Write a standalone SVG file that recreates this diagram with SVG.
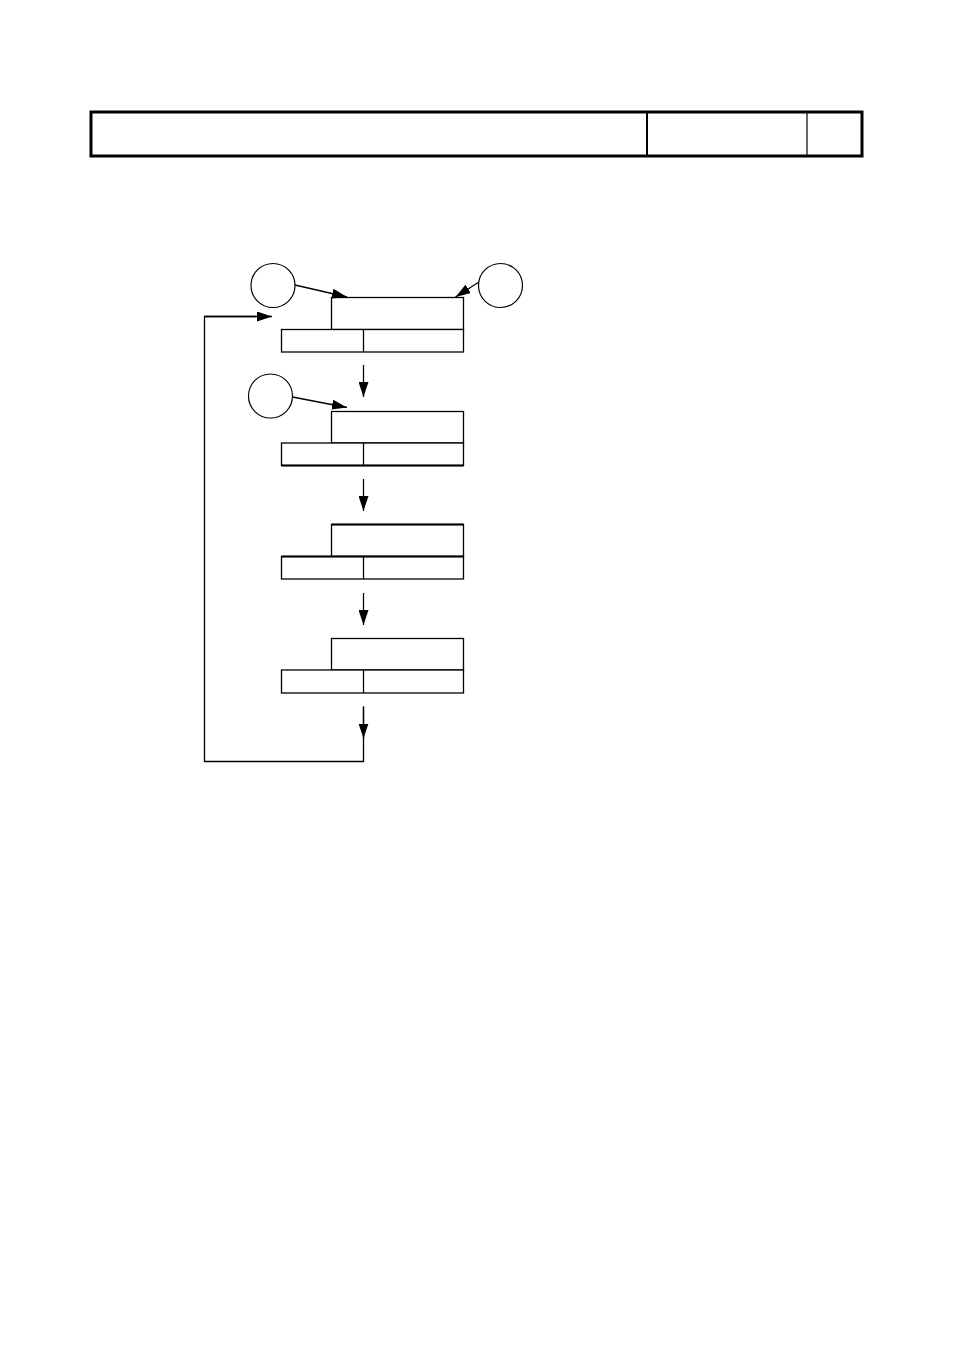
<svg xmlns="http://www.w3.org/2000/svg" width="954" height="1350" viewBox="0 0 954 1350">
<defs>
<marker id="ah" markerWidth="16" markerHeight="10" refX="15" refY="5" orient="auto" markerUnits="userSpaceOnUse">
<path d="M0,0 L15,5 L0,10 Z" fill="#000"/>
</marker>
<style>
.b{fill:#fff;stroke:#000;stroke-width:1.3}
.c{fill:#fff;stroke:#000;stroke-width:1.2}
.l{fill:none;stroke:#000;stroke-width:1.3}
.a{fill:none;stroke:#000;stroke-width:1.3;marker-end:url(#ah)}
</style>
</defs>
<rect width="954" height="1350" fill="#fff"/>
<g id="header">
<rect x="91" y="112" width="771" height="44" fill="none" stroke="#000" stroke-width="3"/>
<line x1="647" y1="112" x2="647" y2="156" stroke="#000" stroke-width="2"/>
<line x1="807" y1="112" x2="807" y2="156" stroke="#000" stroke-width="1.2"/>
</g>
<g id="node1">
<rect class="b" x="331.5" y="297.5" width="132" height="32"/>
<rect class="b" x="281.5" y="329.5" width="182" height="22.5"/>
<line class="l" x1="363.5" y1="329.5" x2="363.5" y2="352"/>
</g>
<g id="node2">
<rect class="b" x="331.5" y="411.5" width="132" height="31.5"/>
<rect class="b" x="281.5" y="443" width="182" height="22.5"/>
<line x1="281.5" y1="465.5" x2="463.5" y2="465.5" stroke="#000" stroke-width="2.2"/>
<line class="l" x1="363.5" y1="443" x2="363.5" y2="465.5"/>
</g>
<g id="node3">
<rect class="b" x="331.5" y="524.5" width="132" height="32"/>
<line x1="331.5" y1="524.5" x2="463.5" y2="524.5" stroke="#000" stroke-width="2.2"/>
<rect class="b" x="281.5" y="556.5" width="182" height="22.5"/>
<line x1="281.5" y1="556.5" x2="463.5" y2="556.5" stroke="#000" stroke-width="2.2"/>
<line class="l" x1="363.5" y1="556.5" x2="363.5" y2="579"/>
</g>
<g id="node4">
<rect class="b" x="331.5" y="638.5" width="132" height="31.5"/>
<rect class="b" x="281.5" y="670" width="182" height="23"/>
<line class="l" x1="363.5" y1="670" x2="363.5" y2="693"/>
</g>
<g id="circle1"><circle class="c" cx="273" cy="285.5" r="22"/></g>
<g id="circle2"><circle class="c" cx="500.5" cy="285.5" r="22"/></g>
<g id="circle3"><circle class="c" cx="270.5" cy="396" r="22"/></g>
<g id="connectors">
<line class="a" x1="295" y1="285" x2="347" y2="297"/>
<line class="a" x1="479" y1="282" x2="455.5" y2="297"/>
<line class="a" x1="292.5" y1="397" x2="347" y2="407.5"/>
<line class="a" x1="363.5" y1="365" x2="363.5" y2="397"/>
<line class="a" x1="363.5" y1="479" x2="363.5" y2="511"/>
<line class="a" x1="363.5" y1="593" x2="363.5" y2="625"/>
<polyline class="l" points="363.5,706.5 363.5,761.5 204.5,761.5 204.5,316.5 256,316.5"/>
<line class="a" x1="363.5" y1="706.5" x2="363.5" y2="738.5"/>
<line class="a" x1="204.5" y1="316.5" x2="272" y2="316.5"/>
</g>
</svg>
